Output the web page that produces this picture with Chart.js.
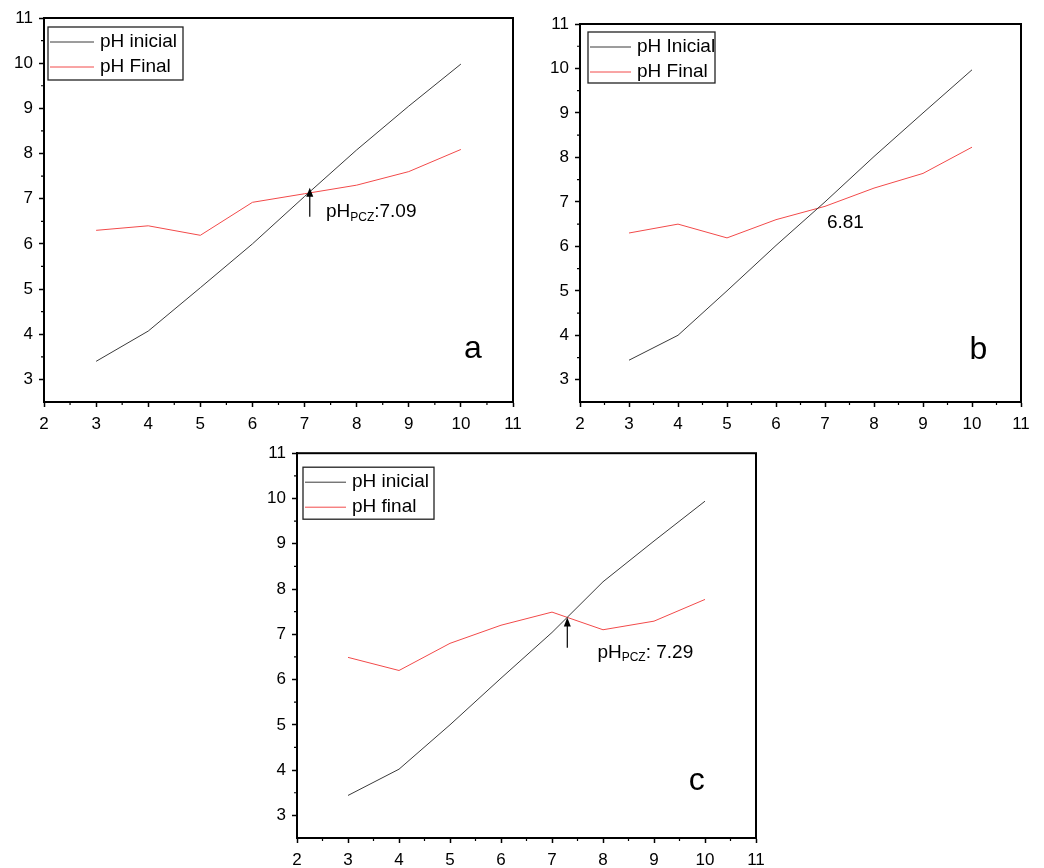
<!DOCTYPE html>
<html>
<head>
<meta charset="utf-8">
<script src="https://cdn.jsdelivr.net/npm/chart.js@4/dist/chart.umd.min.js"></script>
<style>
  body { margin: 0; background: #fff; width: 1044px; height: 868px; position: relative; overflow: hidden; }
  .panel { position: absolute; }
</style>
</head>
<body>
<div class="panel" style="left:0;top:0;width:530px;height:440px"><canvas id="chartA"></canvas></div>
<div class="panel" style="left:540px;top:0;width:504px;height:440px"><canvas id="chartB"></canvas></div>
<div class="panel" style="left:260px;top:437px;width:520px;height:431px"><canvas id="chartC"></canvas></div>
<script>
// data
const phValues = [3, 4, 5, 6, 7, 8, 9, 10]
const inicialA = [3.4, 4.07, 5.03, 6.0, 7.05, 8.08, 9.05, 9.98]
const finalA = [6.3, 6.4, 6.19, 6.92, 7.11, 7.3, 7.6, 8.09]
const inicialB = [3.44, 4.0, 5.0, 6.02, 7.0, 8.02, 9.0, 9.97]
const finalB = [6.3, 6.5, 6.19, 6.6, 6.9, 7.31, 7.64, 8.23]
const inicialC = [3.44, 4.02, 5.0, 6.03, 7.04, 8.16, 9.06, 9.94]
const finalC = [6.49, 6.2, 6.8, 7.2, 7.49, 7.1, 7.29, 7.77]

const xTicks = [2, 3, 4, 5, 6, 7, 8, 9, 10, 11]
const yTicks = [3, 4, 5, 6, 7, 8, 9, 10, 11]
const xMinor = [2.5, 3.5, 4.5, 5.5, 6.5, 7.5, 8.5, 9.5, 10.5]
const yMinor = [3.5, 4.5, 5.5, 6.5, 7.5, 8.5, 9.5, 10.5]

const FONT = '"Liberation Sans", Arial, sans-serif'
const BLACK_LINE = '#3a3a3a'
const RED_LINE = '#f24a4a'

// little helper for "pH_PCZ:7.09" style labels
const drawPcz = (ctx, x, y, value) => {
  ctx.textAlign = 'left'
  ctx.textBaseline = 'middle'
  ctx.font = '19px ' + FONT
  ctx.fillText('pH', x, y)
  let w = ctx.measureText('pH').width
  ctx.font = '12px ' + FONT
  ctx.fillText('PCZ', x + w, y + 5)
  w += ctx.measureText('PCZ').width
  ctx.font = '19px ' + FONT
  ctx.fillText(value, x + w, y)
}

const framePlugin = {
  id: 'frame',
  afterDraw(chart, args, o) {
    const { ctx, chartArea: a } = chart
    const x = chart.scales.x
    const y = chart.scales.y
    ctx.save()
    ctx.strokeStyle = '#000'
    ctx.fillStyle = '#000'

    // minor ticks
    ctx.lineWidth = 1.2
    ctx.beginPath()
    xMinor.forEach((v) => {
      const px = x.getPixelForValue(v)
      ctx.moveTo(px, a.bottom)
      ctx.lineTo(px, a.bottom + 3)
    })
    yMinor.forEach((v) => {
      const py = y.getPixelForValue(v)
      ctx.moveTo(a.left, py)
      ctx.lineTo(a.left - 3, py)
    })
    ctx.stroke()

    // box around plot
    ctx.lineWidth = 2
    ctx.strokeRect(a.left, a.top, a.right - a.left, a.bottom - a.top)

    // legend
    const lg = o.legend
    const lx = a.left + lg.dx
    const ly = a.top + lg.dy
    ctx.lineWidth = 1.3
    ctx.strokeStyle = '#222'
    ctx.strokeRect(lx, ly, lg.w, lg.h)
    ctx.font = '19px ' + FONT
    ctx.textAlign = 'left'
    ctx.textBaseline = 'middle'
    chart.data.datasets.forEach((ds, i) => {
      const ry = ly + 15 + i * 25
      ctx.strokeStyle = ds.borderColor
      ctx.lineWidth = 1
      ctx.beginPath()
      ctx.moveTo(lx + 2, ry)
      ctx.lineTo(lx + lg.line, ry)
      ctx.stroke()
      ctx.fillStyle = '#000'
      ctx.fillText(ds.label, lx + lg.line + 6, ry)
    })

    // arrow
    if (o.arrow) {
      const ax = x.getPixelForValue(o.arrow.x)
      const y0 = y.getPixelForValue(o.arrow.from)
      const y1 = y.getPixelForValue(o.arrow.to)
      ctx.strokeStyle = '#000'
      ctx.lineWidth = 1.2
      ctx.beginPath()
      ctx.moveTo(ax, y0)
      ctx.lineTo(ax, y1 + 6)
      ctx.stroke()
      ctx.beginPath()
      ctx.moveTo(ax, y1)
      ctx.lineTo(ax - 3.5, y1 + 9)
      ctx.lineTo(ax + 3.5, y1 + 9)
      ctx.closePath()
      ctx.fill()
    }

    // value label
    ctx.fillStyle = '#000'
    const nx = x.getPixelForValue(o.note.x)
    const ny = y.getPixelForValue(o.note.y)
    if (o.note.pcz) {
      drawPcz(ctx, nx, ny, o.note.text)
    } else {
      ctx.font = '19px ' + FONT
      ctx.textAlign = 'left'
      ctx.textBaseline = 'middle'
      ctx.fillText(o.note.text, nx, ny)
    }

    // panel letter
    ctx.font = '32px ' + FONT
    ctx.textAlign = 'center'
    ctx.textBaseline = 'middle'
    ctx.fillText(o.letter.text, x.getPixelForValue(o.letter.x), y.getPixelForValue(o.letter.y))

    ctx.restore()
  },
}

const makeChart = (id, inicial, final, labels, box, extra) => {
  const toPts = (arr) => phValues.map((v, i) => ({ x: v, y: arr[i] }))
  return new Chart(document.getElementById(id), {
    type: 'line',
    data: {
      datasets: [
        { label: labels[0], data: toPts(inicial), borderColor: BLACK_LINE, borderWidth: 1, pointRadius: 0, tension: 0 },
        { label: labels[1], data: toPts(final), borderColor: RED_LINE, borderWidth: 1, pointRadius: 0, tension: 0 },
      ],
    },
    options: {
      responsive: true,
      maintainAspectRatio: false,
      animation: false,
      layout: { padding: { top: box.top, right: box.right, left: 0, bottom: 0 } },
      plugins: {
        legend: { display: false },
        tooltip: { enabled: false },
        frame: extra,
      },
      scales: {
        x: {
          type: 'linear',
          min: 2,
          max: 11,
          afterBuildTicks: (s) => { s.ticks = xTicks.map((v) => ({ value: v })) },
          afterFit: (s) => { s.height = box.xh },
          grid: { drawOnChartArea: false, drawTicks: true, tickLength: 5, tickWidth: 1.5, tickColor: '#000' },
          border: { display: true, color: '#000', width: 2 },
          ticks: { color: '#000', font: { family: FONT, size: 17 }, padding: 7, maxRotation: 0, autoSkip: false },
        },
        y: {
          type: 'linear',
          min: 2.5,
          max: 11,
          afterBuildTicks: (s) => { s.ticks = yTicks.map((v) => ({ value: v })) },
          afterFit: (s) => { s.width = box.yw },
          grid: { drawOnChartArea: false, drawTicks: true, tickLength: 5, tickWidth: 1.5, tickColor: '#000' },
          border: { display: true, color: '#000', width: 2 },
          ticks: { color: '#000', font: { family: FONT, size: 17 }, padding: 6, autoSkip: false },
        },
      },
    },
    plugins: [framePlugin],
  })
}

makeChart('chartA', inicialA, finalA, ['pH inicial', 'pH Final'],
  { top: 18, right: 17, yw: 44, xh: 38 },
  {
    legend: { dx: 4, dy: 9, w: 135, h: 53, line: 46 },
    arrow: { x: 7.1, from: 6.6, to: 7.24 },
    note: { x: 7.41, y: 6.7, text: ':7.09', pcz: true },
    letter: { x: 10.23, y: 3.68, text: 'a' },
  })

makeChart('chartB', inicialB, finalB, ['pH Inicial', 'pH Final'],
  { top: 24, right: 23, yw: 40, xh: 38 },
  {
    legend: { dx: 8, dy: 8, w: 127, h: 51, line: 43 },
    note: { x: 7.04, y: 6.53, text: '6.81' },
    letter: { x: 10.13, y: 3.67, text: 'b' },
  })

makeChart('chartC', inicialC, finalC, ['pH inicial', 'pH final'],
  { top: 10, right: 24, yw: 37, xh: 30 },
  {
    legend: { dx: 6, dy: 14, w: 131, h: 52, line: 43 },
    arrow: { x: 7.3, from: 6.7, to: 7.37 },
    note: { x: 7.89, y: 6.59, text: ': 7.29', pcz: true },
    letter: { x: 9.84, y: 3.75, text: 'c' },
  })
</script>
</body>
</html>
